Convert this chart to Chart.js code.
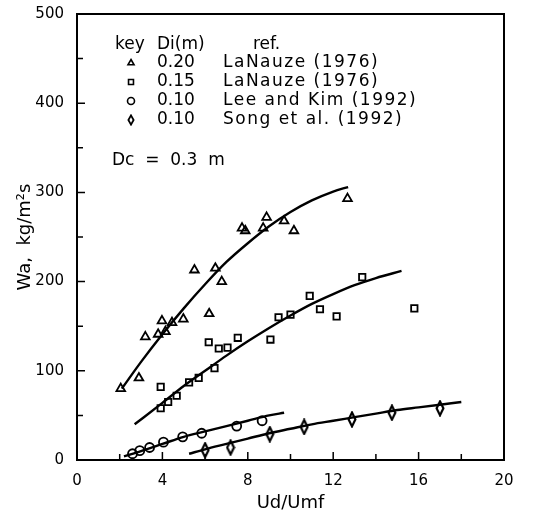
<!DOCTYPE html>
<html>
<head>
<meta charset="utf-8">
<script src="https://cdn.jsdelivr.net/npm/chart.js@4"></script>
<style>
  html, body { margin: 0; padding: 0; background: #fff; }
  #wrap { width: 535px; height: 521px; }
</style>
</head>
<body>
<div id="wrap"><canvas id="chart" width="535" height="521"></canvas></div>
<script>
// measured points, Di = 0.20 m (LaNauze 1976)
const triX = [2.05, 2.9, 3.2, 3.8, 3.98, 4.14, 4.45, 4.98, 5.5, 6.19, 6.48, 6.78, 7.73, 7.88, 8.72, 8.88, 9.7, 10.16, 12.67];
const triY = [80, 92, 138, 141, 156, 144, 154, 158, 213, 164, 215, 200, 260, 257, 260, 272, 268, 257, 293];
// Di = 0.15 m (LaNauze 1976)
const sqX = [3.92, 3.92, 4.27, 4.67, 5.25, 5.7, 6.17, 6.44, 6.64, 7.05, 7.53, 9.06, 9.44, 10.0, 10.9, 11.38, 12.16, 13.36, 15.8];
const sqY = [82, 58, 65, 72, 87, 92, 132, 103, 125, 126, 137, 135, 160, 163, 184, 169, 161, 205, 170];
// Di = 0.10 m (Lee and Kim 1992)
const cirX = [2.6, 2.94, 3.4, 4.05, 4.95, 5.84, 7.48, 8.67];
const cirY = [7, 10.5, 14, 20, 26, 30, 38, 44];
// Di = 0.10 m (Song et al. 1992)
const diaX = [6.0, 7.19, 9.03, 10.64, 12.88, 14.75, 17.0];
const diaY = [11, 14, 29, 37, 45.5, 53, 58];

// fitted curves
const triFitX = [2.1, 3, 4, 5, 6, 7, 8, 9, 10, 11, 12, 12.7];
const triFitY = [80, 110, 141, 170, 197, 222, 243, 262, 278, 291, 301, 306];
const sqFitX = [2.7, 4, 5, 6, 7, 8, 9, 10, 11, 12, 13, 14, 15.2];
const sqFitY = [40, 64, 83, 100, 117, 133, 148, 162, 175, 186, 196, 204, 212];
const cirFitX = [2.2, 3, 4, 5, 6, 7, 8, 9, 9.7];
const cirFitY = [4, 10, 18, 26, 32, 38, 44, 50, 53];
const diaFitX = [5.25, 6, 7, 8, 9, 10, 11, 12, 13, 14, 15, 16, 17, 18];
const diaFitY = [7, 12, 18, 24, 30, 35, 40, 44, 48, 52, 56, 59, 62, 65];

const xTicks = [0, 4, 8, 12, 16, 20];
const yTicks = [0, 100, 200, 300, 400, 500];

const legendRows = [
    ['triangle', '0.20', 'LaNauze (1976)'],
    ['rect', '0.15', 'LaNauze (1976)'],
    ['circle', '0.10', 'Lee and Kim (1992)'],
    ['diamond', '0.10', 'Song et al. (1992)']
];

const FONT = '"DejaVu Sans", sans-serif';

// tall narrow diamond marker
function makeDiamond(w, h, lw) {
    const c = document.createElement('canvas');
    c.width = w;
    c.height = h;
    const g = c.getContext('2d');
    g.strokeStyle = '#000';
    g.lineWidth = lw;
    g.beginPath();
    g.moveTo(w / 2, lw / 2 + 0.5);
    g.lineTo(w - lw / 2 - 0.5, h / 2);
    g.lineTo(w / 2, h - lw / 2 - 0.5);
    g.lineTo(lw / 2 + 0.5, h / 2);
    g.closePath();
    g.stroke();
    return c;
}
const diamondBig = makeDiamond(10, 17, 2.2);
const diamondSmall = makeDiamond(8, 12, 1.8);

function pts(xs, ys) {
    return xs.map((x, i) => ({ x: x, y: ys[i] }));
}

function markers(xs, ys, style, radius) {
    return {
        data: pts(xs, ys),
        showLine: false,
        pointStyle: style,
        pointRadius: radius,
        borderColor: '#000',
        backgroundColor: 'rgba(0,0,0,0)',
        pointBorderWidth: 1.8
    };
}

function curve(xs, ys) {
    return {
        data: pts(xs, ys),
        showLine: true,
        pointRadius: 0,
        borderColor: '#000',
        borderWidth: 2.4,
        tension: 0.4,
        cubicInterpolationMode: 'monotone'
    };
}

const framePlugin = {
    id: 'frame',
    afterDraw(chart) {
        const ctx = chart.ctx;
        const a = chart.chartArea;
        const xs = chart.scales.x;
        const ys = chart.scales.y;
        ctx.save();
        ctx.strokeStyle = '#000';
        ctx.lineWidth = 2;
        ctx.strokeRect(a.left, a.top, a.right - a.left, a.bottom - a.top);
        ctx.lineWidth = 1.5;
        ctx.beginPath();
        for (let v = 2; v < 20; v += 2) {
            const px = xs.getPixelForValue(v);
            const len = v % 4 === 0 ? 8 : 6;
            ctx.moveTo(px, a.bottom);
            ctx.lineTo(px, a.bottom - len);
        }
        for (let v = 50; v < 500; v += 50) {
            const py = ys.getPixelForValue(v);
            const len = v % 100 === 0 ? 8 : 6;
            ctx.moveTo(a.left, py);
            ctx.lineTo(a.left + len, py);
        }
        ctx.stroke();

        // key block
        ctx.font = '17px ' + FONT;
        ctx.textBaseline = 'middle';
        ctx.fillStyle = '#000';
        ctx.fillText('key', 115, 45);
        ctx.fillText('Di(m)', 157, 45);
        ctx.fillText('ref.', 253, 45);
        const rowY = [63, 82, 101, 120];
        legendRows.forEach((r, i) => {
            const y = rowY[i];
            if (r[0] === 'diamond') {
                ctx.drawImage(diamondSmall, 131 - 4, y - 6);
            } else {
                ctx.fillStyle = '#fff';
                ctx.lineWidth = 1.6;
                Chart.helpers.drawPoint(ctx, { pointStyle: r[0], radius: 3.5, rotation: 0, borderWidth: 1.6 }, 131, y);
            }
            ctx.fillStyle = '#000';
            ctx.letterSpacing = '0px';
            ctx.fillText(r[1], 157, y);
            ctx.letterSpacing = '1.5px';
            ctx.fillText(r[2], 223, y);
            ctx.letterSpacing = '0px';
        });
        ctx.fillText('Dc  =  0.3  m', 112, 161);
        ctx.restore();
    }
};

new Chart(document.getElementById('chart'), {
    type: 'scatter',
    data: {
        datasets: [
            markers(triX, triY, 'triangle', 5),
            markers(sqX, sqY, 'rect', 4.5),
            markers(cirX, cirY, 'circle', 4.5),
            markers(diaX, diaY, diamondBig, 5),
            curve(triFitX, triFitY),
            curve(sqFitX, sqFitY),
            curve(cirFitX, cirFitY),
            curve(diaFitX, diaFitY)
        ]
    },
    options: {
        responsive: false,
        animation: false,
        layout: { padding: { top: 13, right: 31, left: 0, bottom: 0 } },
        plugins: {
            legend: { display: false },
            tooltip: { enabled: false }
        },
        scales: {
            x: {
                type: 'linear',
                min: 0,
                max: 20,
                afterFit: s => { s.height = 61; },
                afterBuildTicks: s => { s.ticks = xTicks.map(v => ({ value: v })); },
                grid: { display: false },
                border: { display: false },
                ticks: { color: '#000', font: { family: FONT, size: 15 }, padding: 4, maxRotation: 0 },
                title: { display: true, text: 'Ud/Umf', color: '#000', font: { family: FONT, size: 18 }, padding: { top: 0, bottom: 7 } }
            },
            y: {
                min: 0,
                max: 500,
                afterFit: s => { s.width = 77; },
                afterBuildTicks: s => { s.ticks = yTicks.map(v => ({ value: v })); },
                grid: { display: false },
                border: { display: false },
                ticks: { color: '#000', font: { family: FONT, size: 15 }, padding: 5 },
                title: { display: true, text: 'Wa,  kg/m²s', color: '#000', font: { family: FONT, size: 18 }, padding: { top: 15, bottom: 0 } }
            }
        }
    },
    plugins: [framePlugin]
});
</script>
</body>
</html>
